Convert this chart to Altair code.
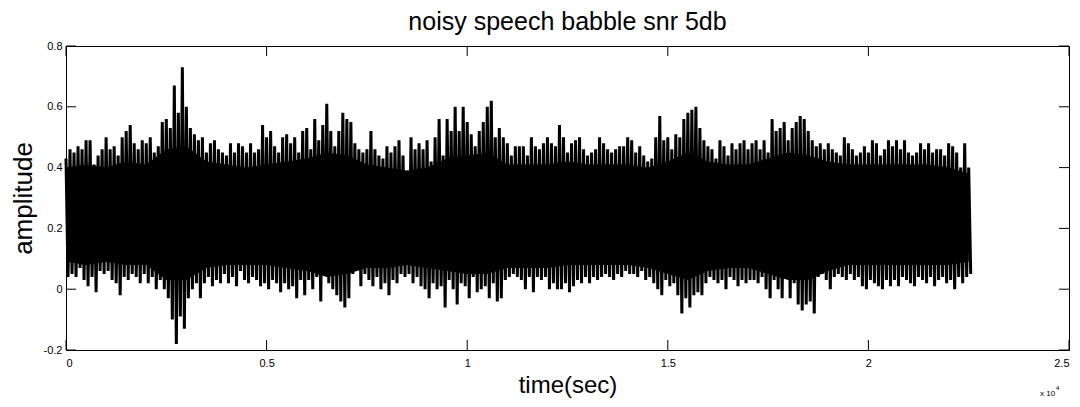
import altair as alt
import pandas as pd

TITLE = "noisy speech babble snr 5db"
X_TITLE = "time(sec)"
Y_TITLE = "amplitude"
EXP_BASE = "x 10"
EXP_POW = "4"

SAMPLE_STEP = 100   # samples between peak readings
CORE_STEP = 500     # samples between dense-band readings

# upper peaks (local maxima) read every 100 samples
HI = [
    0.43, 0.46, 0.45, 0.47, 0.46, 0.49, 0.49, 0.41, 0.44, 0.46,
    0.50, 0.46, 0.47, 0.44, 0.50, 0.52, 0.54, 0.48, 0.46, 0.49,
    0.48, 0.50, 0.45, 0.47, 0.55, 0.56, 0.53, 0.67, 0.58, 0.73,
    0.60, 0.53, 0.51, 0.49, 0.50, 0.45, 0.48, 0.49, 0.46, 0.45,
    0.44, 0.48, 0.45, 0.48, 0.47, 0.45, 0.48, 0.45, 0.46, 0.54,
    0.50, 0.52, 0.47, 0.45, 0.50, 0.51, 0.48, 0.50, 0.45, 0.52,
    0.53, 0.46, 0.56, 0.49, 0.54, 0.61, 0.52, 0.47, 0.52, 0.58,
    0.56, 0.55, 0.48, 0.46, 0.45, 0.46, 0.52, 0.46, 0.44, 0.43,
    0.47, 0.45, 0.47, 0.49, 0.44, 0.39, 0.50, 0.46, 0.48, 0.46,
    0.49, 0.42, 0.50, 0.56, 0.44, 0.56, 0.52, 0.60, 0.52, 0.60,
    0.55, 0.51, 0.47, 0.52, 0.55, 0.60, 0.62, 0.50, 0.53, 0.50,
    0.48, 0.44, 0.47, 0.47, 0.47, 0.44, 0.50, 0.47, 0.46, 0.48,
    0.50, 0.48, 0.47, 0.54, 0.50, 0.45, 0.48, 0.49, 0.50, 0.46,
    0.44, 0.45, 0.46, 0.50, 0.48, 0.46, 0.45, 0.46, 0.47, 0.47,
    0.50, 0.49, 0.45, 0.47, 0.44, 0.42, 0.43, 0.50, 0.57, 0.49,
    0.50, 0.46, 0.51, 0.50, 0.56, 0.58, 0.59, 0.60, 0.53, 0.49,
    0.47, 0.46, 0.43, 0.49, 0.47, 0.44, 0.48, 0.46, 0.48, 0.49,
    0.46, 0.48, 0.49, 0.46, 0.49, 0.45, 0.56, 0.52, 0.53, 0.55,
    0.49, 0.53, 0.55, 0.57, 0.56, 0.52, 0.49, 0.47, 0.48, 0.46,
    0.48, 0.46, 0.45, 0.44, 0.50, 0.48, 0.46, 0.44, 0.45, 0.47,
    0.45, 0.49, 0.48, 0.44, 0.46, 0.49, 0.47, 0.49, 0.46, 0.49,
    0.45, 0.44, 0.45, 0.48, 0.46, 0.48, 0.45, 0.46, 0.46, 0.44,
    0.48, 0.47, 0.45, 0.40, 0.48, 0.40,
]

# lower peaks (local minima) read every 100 samples
LO = [
    0.04, 0.05, 0.04, 0.07, 0.03, 0.01, 0.04, -0.01, 0.06, 0.05,
    0.06, 0.03, 0.02, -0.02, 0.04, 0.03, 0.05, 0.04, 0.02, 0.05,
    0.02, 0.04, 0.00, 0.03, 0.00, -0.03, -0.10, -0.18, -0.09, -0.13,
    -0.03, 0.00, 0.02, -0.03, 0.02, 0.04, 0.01, 0.03, 0.02, 0.05,
    0.02, 0.04, 0.01, 0.06, 0.03, 0.02, 0.04, 0.03, 0.01, 0.02,
    0.00, 0.03, 0.02, -0.01, 0.02, 0.00, 0.01, -0.03, 0.03, -0.02,
    0.03, 0.00, 0.04, -0.04, 0.05, 0.02, 0.00, -0.02, -0.04, -0.06,
    -0.03, 0.05, 0.07, 0.01, 0.05, 0.03, 0.01, 0.04, 0.00, 0.02,
    -0.02, 0.03, 0.02, 0.05, 0.04, 0.05, 0.02, 0.04, 0.01, 0.00,
    -0.03, 0.02, 0.00, 0.01, -0.06, 0.03, 0.00, -0.05, 0.02, 0.01,
    -0.03, 0.04, -0.01, 0.00, 0.01, -0.03, 0.02, -0.04, -0.03, 0.03,
    0.04, 0.05, 0.04, 0.03, 0.00, 0.04, -0.01, 0.04, 0.03, 0.04,
    0.00, 0.02, 0.00, 0.00, 0.02, -0.01, 0.01, 0.03, 0.02, 0.04,
    0.02, 0.04, 0.03, 0.04, 0.05, 0.04, 0.03, 0.05, 0.04, 0.06,
    0.05, 0.05, 0.04, 0.06, 0.03, 0.04, 0.02, 0.00, -0.02, 0.03,
    0.01, 0.02, -0.02, -0.08, -0.03, -0.06, -0.02, -0.01, -0.02, 0.02,
    0.04, 0.03, 0.02, 0.03, 0.00, 0.04, 0.03, 0.01, 0.03, 0.02,
    0.03, 0.03, 0.02, 0.04, 0.00, -0.03, 0.03, 0.00, -0.03, 0.04,
    -0.03, 0.02, -0.05, -0.07, -0.05, -0.04, -0.08, 0.04, 0.05, 0.03,
    0.00, 0.04, 0.05, 0.04, 0.03, 0.05, 0.03, 0.04, 0.01, 0.00,
    0.03, 0.02, 0.01, 0.00, 0.03, 0.01, 0.03, 0.01, 0.04, 0.03,
    0.02, 0.01, 0.04, 0.03, 0.02, 0.04, 0.01, 0.03, 0.04, 0.02,
    0.03, 0.00, 0.04, 0.02, 0.04, 0.05,
]

# edges of the solid dense band, read every 500 samples
CORE_HI = [
    0.40, 0.41, 0.40, 0.42, 0.41, 0.46, 0.47, 0.42, 0.41, 0.40,
    0.41, 0.42, 0.43, 0.45, 0.44, 0.41, 0.40, 0.39, 0.40, 0.43,
    0.44, 0.45, 0.41, 0.41, 0.41, 0.42, 0.41, 0.41, 0.41, 0.40,
    0.42, 0.45, 0.42, 0.41, 0.41, 0.43, 0.45, 0.44, 0.42, 0.41,
    0.41, 0.41, 0.41, 0.41, 0.40, 0.38,
]
CORE_LO = [
    0.09, 0.08, 0.09, 0.08, 0.08, 0.03, 0.03, 0.07, 0.08, 0.08,
    0.08, 0.07, 0.06, 0.04, 0.05, 0.07, 0.07, 0.08, 0.07, 0.06,
    0.05, 0.05, 0.07, 0.07, 0.07, 0.08, 0.08, 0.08, 0.08, 0.07,
    0.05, 0.03, 0.06, 0.07, 0.07, 0.05, 0.03, 0.03, 0.06, 0.08,
    0.08, 0.08, 0.08, 0.08, 0.08, 0.09,
]

X_TICKS = [0, 5000, 10000, 15000, 20000, 25000]
Y_TICKS = [-0.2, 0, 0.2, 0.4, 0.6, 0.8]
X_DOMAIN = [0, 25000]
Y_DOMAIN = [-0.2, 0.8]

W, H = 1003, 304
FONT = "Liberation Sans"
TICK_LEN = 10

# zig-zag trace: each upper peak followed by the next lower peak
rows = []
for i, (h, l) in enumerate(zip(HI, LO)):
    n = i * SAMPLE_STEP
    rows.append({"k": 2 * i, "n": n, "amp": h})
    rows.append({"k": 2 * i + 1, "n": n + SAMPLE_STEP // 2, "amp": l})
trace = pd.DataFrame(rows)
core = pd.DataFrame({
    "n": [i * CORE_STEP for i in range(len(CORE_HI))],
    "top": CORE_HI,
    "bot": CORE_LO,
})
xt = pd.DataFrame({"t": X_TICKS})
yt = pd.DataFrame({"v": Y_TICKS})

xs = alt.Scale(domain=X_DOMAIN, nice=False, zero=False)
ys = alt.Scale(domain=Y_DOMAIN, nice=False, zero=False)

y_label_expr = ("datum.value == 0 ? '0' : (datum.value < 0 ? '-' + format(-datum.value, '.1f') "
                ": format(datum.value, '.1f'))")

x_axis = alt.Axis(
    values=X_TICKS, labelExpr="datum.value / 10000", title=X_TITLE,
    ticks=False, domain=False, grid=False, labelPadding=7,
    labelFontSize=11, labelFont=FONT, labelColor="black",
    titleFontSize=24, titleFont=FONT, titleFontWeight="normal",
    titleColor="black", titlePadding=5,
)
y_axis = alt.Axis(
    values=Y_TICKS, labelExpr=y_label_expr, title=Y_TITLE,
    ticks=False, domain=False, grid=False, labelPadding=4,
    labelFontSize=11, labelFont=FONT, labelColor="black",
    titleFontSize=26, titleFont=FONT, titleFontWeight="normal",
    titleColor="black", titlePadding=7,
)

band = alt.Chart(core).mark_area(color="black", interpolate="linear").encode(
    x=alt.X("n:Q", scale=xs, axis=x_axis),
    y=alt.Y("top:Q", scale=ys, axis=y_axis),
    y2="bot:Q",
)

line = alt.Chart(trace).mark_line(
    color="black", strokeWidth=3, strokeJoin="bevel", interpolate="linear"
).encode(
    x=alt.X("n:Q", scale=xs, axis=x_axis),
    y=alt.Y("amp:Q", scale=ys, axis=y_axis),
    order="k:Q",
)

tick_style = dict(color="black", strokeWidth=1)
xtick_b = alt.Chart(xt).mark_rule(**tick_style).encode(
    x=alt.X("t:Q", scale=xs, axis=x_axis), y=alt.value(H), y2=alt.value(H - TICK_LEN))
xtick_t = alt.Chart(xt).mark_rule(**tick_style).encode(
    x=alt.X("t:Q", scale=xs, axis=x_axis), y=alt.value(0), y2=alt.value(TICK_LEN))
ytick_l = alt.Chart(yt).mark_rule(**tick_style).encode(
    y=alt.Y("v:Q", scale=ys, axis=y_axis), x=alt.value(0), x2=alt.value(TICK_LEN))
ytick_r = alt.Chart(yt).mark_rule(**tick_style).encode(
    y=alt.Y("v:Q", scale=ys, axis=y_axis), x=alt.value(W), x2=alt.value(W - TICK_LEN))

exp_base = alt.Chart(pd.DataFrame({"s": [EXP_BASE]})).mark_text(
    align="left", baseline="alphabetic", fontSize=8, font=FONT, color="black"
).encode(text="s:N", x=alt.value(974), y=alt.value(350))
exp_pow = alt.Chart(pd.DataFrame({"s": [EXP_POW]})).mark_text(
    align="left", baseline="alphabetic", fontSize=6, font=FONT, color="black"
).encode(text="s:N", x=alt.value(990), y=alt.value(344))

chart = alt.layer(
    band, line, xtick_b, xtick_t, ytick_l, ytick_r, exp_base, exp_pow
).properties(
    width=W, height=H,
    title=alt.TitleParams(TITLE, fontSize=25, fontWeight="normal", font=FONT,
                          color="black", anchor="middle", offset=5),
    autosize=alt.AutoSizeParams(type="none"),
    padding={"left": 58, "top": 38, "right": 3, "bottom": 49},
).configure_view(
    stroke="black", strokeWidth=1
)

chart.save("out.html", embed_options={"renderer": "svg", "actions": False})
